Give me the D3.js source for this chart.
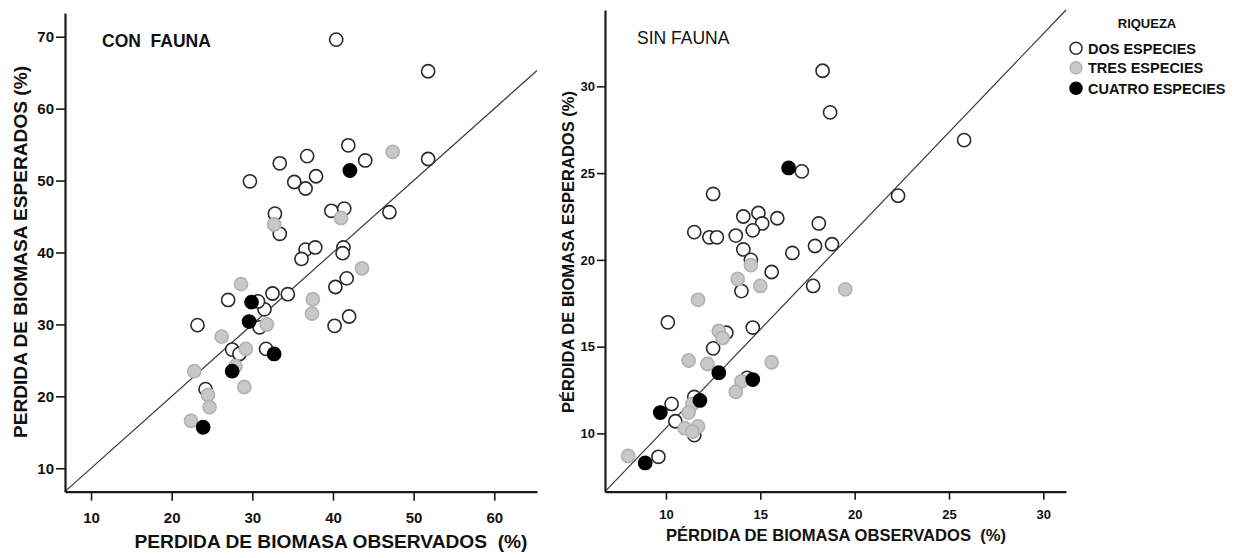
<!DOCTYPE html>
<html>
<head>
<meta charset="utf-8">
<script src="https://cdn.jsdelivr.net/npm/d3@7"></script>
<style>
  html, body { margin: 0; padding: 0; background: #fff; }
  svg { display: block; font-family: "Liberation Sans", Arial, sans-serif; }
  text { white-space: pre; }
</style>
</head>
<body>
<svg id="chart" width="1237" height="558"></svg>
<script>
// ---------- DATA ----------
// Panel 1: CON FAUNA  (observed %, expected %)
const conDosObs = [40.4,51.8,41.9,36.8,33.4,44.0,51.8,29.7,35.2,37.9,36.6,32.8,33.4,39.8,41.4,47.0,36.6,37.8,36.1,41.3,41.2,41.7,40.3,42.0,40.2,27.0,32.5,34.4,31.5,30.9,23.2,27.5,28.4,31.7,24.2,30.7];
const conDosEsp = [69.6,65.2,54.9,53.4,52.4,52.8,53.0,49.9,49.8,50.6,48.9,45.4,42.6,45.8,46.1,45.6,40.4,40.7,39.1,40.7,39.9,36.4,35.2,31.1,29.8,33.4,34.3,34.2,32.1,29.6,29.9,26.5,25.9,26.6,21.0,33.2];
const conTresObs = [47.4,32.7,41.0,43.6,37.5,37.4,28.6,31.8,26.2,29.2,22.8,27.9,29.0,24.5,24.7,22.4];
const conTresEsp = [54.0,43.9,44.8,37.8,33.5,31.5,35.6,30.0,28.3,26.6,23.5,24.2,21.3,20.2,18.5,16.6];
const conCuatroObs = [42.1,29.9,29.6,32.7,27.5,23.9];
const conCuatroEsp = [51.4,33.1,30.4,25.9,23.5,15.7];

// Panel 2: SIN FAUNA
const sinDosObs = [18.3,18.7,25.8,17.2,12.5,22.3,14.1,14.9,15.9,15.1,18.1,11.5,12.3,12.7,13.7,14.6,17.9,18.8,14.1,16.7,14.5,15.6,14.0,17.8,10.1,14.6,13.2,12.5,14.3,11.5,10.3,10.5,11.5,9.6];
const sinDosEsp = [30.9,28.5,26.9,25.1,23.8,23.7,22.5,22.7,22.4,22.1,22.1,21.6,21.3,21.3,21.4,21.7,20.8,20.9,20.6,20.4,20.0,19.3,18.2,18.5,16.4,16.1,15.8,14.9,13.2,12.1,11.7,10.7,9.9,8.65];
const sinTresObs = [14.5,13.8,15.0,19.5,11.7,12.8,13.0,11.2,12.2,15.6,14.0,13.7,11.4,11.2,11.0,11.7,11.4,8.0];
const sinTresEsp = [19.7,18.9,18.5,18.3,17.7,15.9,15.5,14.2,14.0,14.1,13.0,12.4,11.7,11.2,10.3,10.4,10.1,8.7];
const sinCuatroObs = [16.5,12.8,14.6,11.8,9.7,8.9];
const sinCuatroEsp = [25.3,13.5,13.1,11.9,11.2,8.3];

// Axis ticks
const conXTicks = [10,20,30,40,50,60];
const conYTicks = [10,20,30,40,50,60,70];
const sinXTicks = [10,15,20,25,30];
const sinYTicks = [10,15,20,25,30];

// Reference lines (data coords)
const conRefLine = [[6.75,6.75],[65.3,65.3]];
const sinRefLine = [[6.77,6.64],[31.2,34.4]];

// Legend
const legendTitle = "RIQUEZA";
const legendLabels = ["DOS ESPECIES","TRES ESPECIES","CUATRO ESPECIES"];

// ---------- STYLE ----------
const styles = [
  {fill:"#ffffff", stroke:"#2a2a2a"},
  {fill:"#c8c8c8", stroke:"#b2b2b2"},
  {fill:"#000000", stroke:"#000000"}
];
const R = 6.6;

const svg = d3.select("#chart");

function panel(cfg) {
  const x = d3.scaleLinear().domain(cfg.xDomain).range(cfg.xRange);
  const y = d3.scaleLinear().domain(cfg.yDomain).range(cfg.yRange);
  const g = svg.append("g");

  // reference line
  g.append("line")
    .attr("x1", x(cfg.ref[0][0])).attr("y1", y(cfg.ref[0][1]))
    .attr("x2", x(cfg.ref[1][0])).attr("y2", y(cfg.ref[1][1]))
    .attr("stroke", "#3a3a3a").attr("stroke-width", 1.2);

  // axes
  const yAxis = d3.axisLeft(y).tickValues(cfg.yTicks).tickSize(cfg.tickLen).tickSizeOuter(0).tickPadding(2);
  const xAxis = d3.axisBottom(x).tickValues(cfg.xTicks).tickSize(cfg.tickLen).tickSizeOuter(0).tickPadding(cfg.xPad);
  const ga = g.append("g").attr("transform", `translate(${cfg.xRange[0]},0)`).call(yAxis);
  const gb = g.append("g").attr("transform", `translate(0,${cfg.yRange[0]})`).call(xAxis);
  [ga, gb].forEach(a => {
    a.select(".domain").attr("stroke", "#1a1a1a").attr("stroke-width", 2.2);
    a.selectAll(".tick line").attr("stroke", "#1a1a1a").attr("stroke-width", 1.6);
    a.selectAll(".tick text").attr("fill", "#111").attr("font-weight", "bold")
      .attr("font-size", cfg.tickFont).attr("font-family", "'Liberation Sans', Arial, sans-serif");
  });

  // points: open, gray, black
  cfg.groups.forEach((grp, gi) => {
    const pts = grp.obs.map((v, i) => [v, grp.esp[i]]);
    g.append("g").selectAll("circle").data(pts).join("circle")
      .attr("cx", d => x(d[0])).attr("cy", d => y(d[1])).attr("r", R)
      .attr("fill", styles[gi].fill).attr("stroke", styles[gi].stroke).attr("stroke-width", 1.6);
  });

  // titles
  g.append("text").attr("x", cfg.title.x).attr("y", cfg.title.y)
    .attr("font-size", cfg.title.size).attr("font-weight", cfg.title.weight)
    .attr("fill", "#111").text(cfg.title.text);

  g.append("text").attr("x", cfg.xTitle.x).attr("y", cfg.xTitle.y).attr("text-anchor", "middle")
    .attr("font-size", cfg.xTitle.size).attr("font-weight", "bold").attr("fill", "#111")
    .attr("textLength", cfg.xTitle.len).attr("lengthAdjust", "spacingAndGlyphs")
    .text(cfg.xTitle.text);

  g.append("text").attr("transform", `translate(${cfg.yTitle.x},${cfg.yTitle.y}) rotate(-90)`)
    .attr("text-anchor", "middle")
    .attr("font-size", cfg.yTitle.size).attr("font-weight", "bold").attr("fill", "#111")
    .attr("textLength", cfg.yTitle.len).attr("lengthAdjust", "spacingAndGlyphs")
    .text(cfg.yTitle.text);
  return {x, y};
}

panel({
  xDomain: [6.77, 65.3], xRange: [65, 537],
  yDomain: [6.74, 73.3], yRange: [491.7, 13],
  xTicks: conXTicks, yTicks: conYTicks, tickLen: 9, xPad: 12, tickFont: 15,
  ref: conRefLine,
  groups: [
    {obs: conDosObs, esp: conDosEsp},
    {obs: conTresObs, esp: conTresEsp},
    {obs: conCuatroObs, esp: conCuatroEsp}
  ],
  title: {text: "CON  FAUNA", x: 102, y: 47, size: 17.5, weight: "bold"},
  xTitle: {text: "PERDIDA DE BIOMASA OBSERVADOS  (%)", x: 331, y: 548, size: 18.5, len: 393},
  yTitle: {text: "PERDIDA DE BIOMASA ESPERADOS (%)", x: 27, y: 252, size: 19, len: 372}
});

panel({
  xDomain: [6.77, 31.2], xRange: [605, 1066],
  yDomain: [6.64, 34.4], yRange: [491.7, 10],
  xTicks: sinXTicks, yTicks: sinYTicks, tickLen: 8, xPad: 10, tickFont: 13,
  ref: sinRefLine,
  groups: [
    {obs: sinDosObs, esp: sinDosEsp},
    {obs: sinTresObs, esp: sinTresEsp},
    {obs: sinCuatroObs, esp: sinCuatroEsp}
  ],
  title: {text: "SIN FAUNA", x: 637, y: 43.5, size: 17.5, weight: "normal"},
  xTitle: {text: "PÉRDIDA DE BIOMASA OBSERVADOS  (%)", x: 836, y: 541, size: 17, len: 340},
  yTitle: {text: "PÉRDIDA DE BIOMASA ESPERADOS (%)", x: 574, y: 252, size: 17, len: 322}
});

// legend
const lg = svg.append("g");
lg.append("text").attr("x", 1147).attr("y", 28).attr("text-anchor", "middle")
  .attr("font-size", 13).attr("font-weight", "bold").attr("fill", "#111").text(legendTitle);
const legY = [48.3, 67.7, 88.3];
legendLabels.forEach((lab, i) => {
  lg.append("circle").attr("cx", 1076).attr("cy", legY[i]).attr("r", 6)
    .attr("fill", styles[i].fill).attr("stroke", styles[i].stroke).attr("stroke-width", 1.5);
  lg.append("text").attr("x", 1088).attr("y", legY[i] + 5.3)
    .attr("font-size", 14.5).attr("font-weight", "bold").attr("fill", "#111").text(lab);
});
</script>
</body>
</html>
